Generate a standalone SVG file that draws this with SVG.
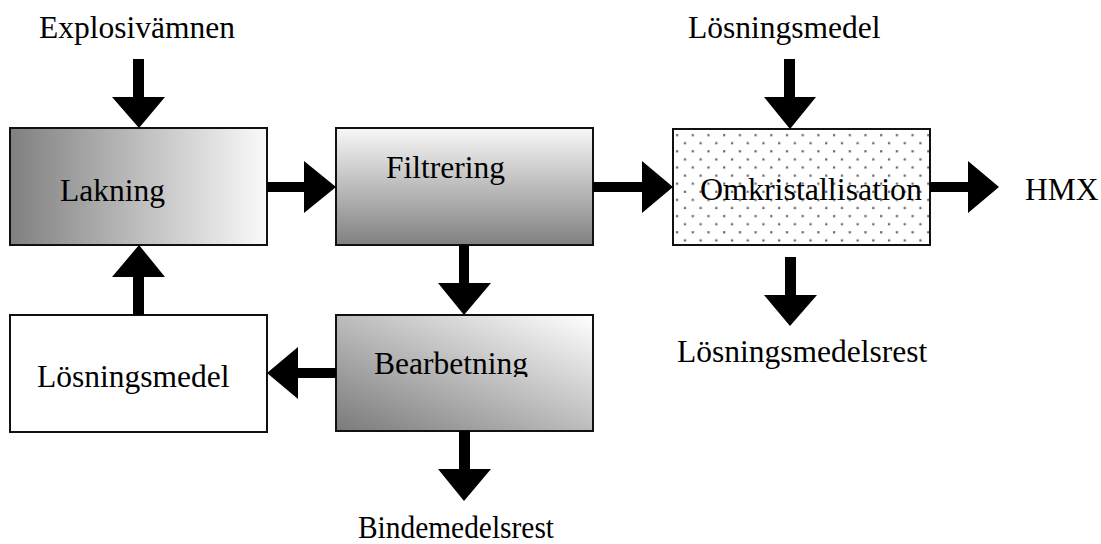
<svg xmlns="http://www.w3.org/2000/svg" width="1101" height="544" viewBox="0 0 1101 544">
  <style>
    .box { stroke: #111; stroke-width: 2; }
    .lbl { font-family: "Liberation Serif", "Times New Roman", serif; font-size: 31.5px; fill: #000; }
    .arrow { fill: #000; stroke: none; }
  </style>
  <defs>
    <linearGradient id="gLak" x1="0" y1="0" x2="1" y2="0">
      <stop offset="0" stop-color="#808080"/>
      <stop offset="1" stop-color="#fafafa"/>
    </linearGradient>
    <linearGradient id="gFil" x1="0" y1="0" x2="0" y2="1">
      <stop offset="0" stop-color="#f8f8f8"/>
      <stop offset="1" stop-color="#808080"/>
    </linearGradient>
    <linearGradient id="gBea" x1="0" y1="1" x2="1" y2="0">
      <stop offset="0" stop-color="#7a7a7a"/>
      <stop offset="1" stop-color="#ffffff"/>
    </linearGradient>
    <pattern id="dots" x="673" y="131" width="15.7" height="16.2" patternUnits="userSpaceOnUse">
      <rect x="0" y="0" width="15.7" height="16.2" fill="#fff"/>
      <rect x="3" y="3" width="2.2" height="2.2" fill="#666"/>
      <rect x="10.85" y="11.1" width="2.2" height="2.2" fill="#666"/>
    </pattern>
    <clipPath id="clipBea">
      <rect x="336" y="315" width="257" height="62"/>
    </clipPath>
  </defs>

  <g id="explosivamnen">
    <text class="lbl" x="39" y="38" textLength="196" lengthAdjust="spacingAndGlyphs">Explosivämnen</text>
  </g>
  <g id="losningsmedel-top">
    <text class="lbl" x="688" y="38">Lösningsmedel</text>
  </g>
  <g id="lakning">
    <rect class="box" x="10" y="128" width="257" height="117" fill="url(#gLak)"/>
    <text class="lbl" x="60" y="201">Lakning</text>
  </g>
  <g id="filtrering">
    <rect class="box" x="336" y="128" width="257" height="117" fill="url(#gFil)"/>
    <text class="lbl" x="386" y="178">Filtrering</text>
  </g>
  <g id="omkristallisation">
    <rect class="box" x="673" y="129" width="257" height="116" fill="url(#dots)"/>
    <text class="lbl" x="700" y="200" textLength="222" lengthAdjust="spacingAndGlyphs">Omkristallisation</text>
  </g>
  <g id="hmx">
    <text class="lbl" x="1025" y="200">HMX</text>
  </g>
  <g id="losningsmedel">
    <rect class="box" x="10" y="315" width="257" height="117" fill="#fff"/>
    <text class="lbl" x="37" y="387">Lösningsmedel</text>
  </g>
  <g id="bearbetning">
    <rect class="box" x="336" y="315" width="257" height="116" fill="url(#gBea)"/>
    <text class="lbl" x="374" y="374" clip-path="url(#clipBea)">Bearbetning</text>
  </g>
  <g id="losningsmedelsrest">
    <text class="lbl" x="677" y="362">Lösningsmedelsrest</text>
  </g>
  <g id="bindemedelsrest">
    <text class="lbl" x="358" y="538" textLength="196" lengthAdjust="spacingAndGlyphs">Bindemedelsrest</text>
  </g>

  <g id="connectors">
    <polygon class="arrow" points="133,59 144,59 144,97 165,97 139,128 112,97 133,97"/>
    <polygon class="arrow" points="267,182 304,182 304,161 336,187 304,213 304,192 267,192"/>
    <polygon class="arrow" points="139,245 165,277 144,277 144,315 133,315 133,277 112,277"/>
    <polygon class="arrow" points="459,245 469,245 469,283 491,283 464,315 438,283 459,283"/>
    <polygon class="arrow" points="593,182 642,182 642,161 673,187 642,213 642,192 593,192"/>
    <polygon class="arrow" points="784,59 795,59 795,97 816,97 790,129 764,97 784,97"/>
    <polygon class="arrow" points="930,182 968,182 968,161 999,187 968,213 968,192 930,192"/>
    <polygon class="arrow" points="785,257 796,257 796,295 817,295 790,326 764,295 785,295"/>
    <polygon class="arrow" points="336,368 298,368 298,347 267,373 298,399 298,378 336,378"/>
    <polygon class="arrow" points="459,431 470,431 470,469 491,469 464,501 438,469 459,469"/>
  </g>
</svg>
